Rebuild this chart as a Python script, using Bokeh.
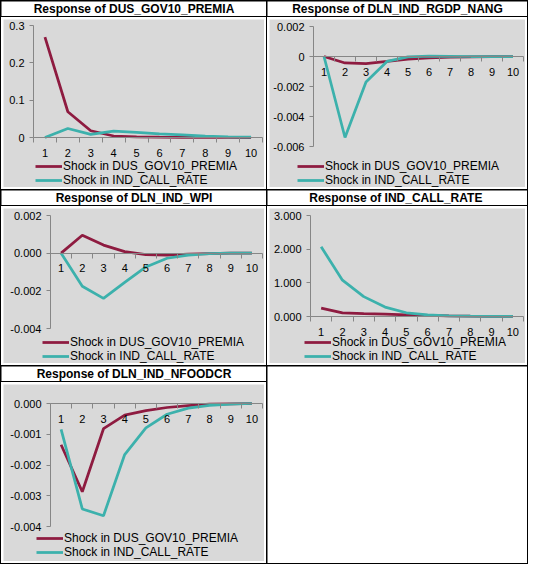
from bokeh.plotting import figure
from bokeh.models import Range1d, FixedTicker, Legend, LegendItem, Label, GridBox, Column
from bokeh.embed import file_html
from bokeh.resources import INLINE

# ---------------- data ----------------
periods = [1, 2, 3, 4, 5, 6, 7, 8, 9, 10]
series_names = ["Shock in DUS_GOV10_PREMIA", "Shock in IND_CALL_RATE"]
titles = [
    "Response of DUS_GOV10_PREMIA",
    "Response of DLN_IND_RGDP_NANG",
    "Response of DLN_IND_WPI",
    "Response of  IND_CALL_RATE",
    "Response of DLN_IND_NFOODCR",
]

gov_dus = [0.269, 0.069, 0.018, 0.004, 0.002, 0.001, 0.0005, 0.0002, 0.0001, 0.0]
gov_call = [0.0, 0.024, 0.0085, 0.017, 0.014, 0.010, 0.007, 0.004, 0.002, 0.001]

rgdp_dus = [0.0, -0.00043, -0.00047, -0.00033, -0.00018, -0.0001, -0.00005, -0.00002, -0.00001, 0.0]
rgdp_call = [0.0, -0.0054, -0.0017, -0.00033, -0.00003, 0.00002, 0.00001, 0.0, 0.0, 0.0]

wpi_dus = [0.0, 0.00095, 0.00043, 0.00008, -0.00008, -0.0001, -0.00005, -0.00002, 0.0, 0.0]
wpi_call = [0.0, -0.00176, -0.0024, -0.00155, -0.00073, -0.00027, -0.0001, -0.00003, 0.0, 0.0]

call_dus = [0.25, 0.105, 0.085, 0.07, 0.05, 0.03, 0.015, 0.008, 0.004, 0.002]
call_call = [2.07, 1.08, 0.59, 0.28, 0.11, 0.05, 0.02, 0.01, 0.005, 0.002]

nfood_dus = [-0.00134, -0.00287, -0.00082, -0.00038, -0.00023, -0.00013, -0.00007, -0.00002, -0.00001, 0.0]
nfood_call = [-0.00084, -0.00343, -0.00365, -0.00166, -0.00079, -0.00035, -0.00015, -0.00006, -0.00002, 0.0]

gov_yticks = [0, 0.1, 0.2, 0.3]
gov_ylabels = ["0", "0.1", "0.2", "0.3"]
rgdp_yticks = [-0.006, -0.004, -0.002, 0, 0.002]
rgdp_ylabels = ["-0.006", "-0.004", "-0.002", "0", "0.002"]
wpi_yticks = [-0.004, -0.002, 0, 0.002]
wpi_ylabels = ["-0.004", "-0.002", "0.000", "0.002"]
call_yticks = [0, 1, 2, 3]
call_ylabels = ["0.000", "1.000", "2.000", "3.000"]
nfood_yticks = [-0.004, -0.003, -0.002, -0.001, 0]
nfood_ylabels = ["-0.004", "-0.003", "-0.002", "-0.001", "0.000"]

# ---------------- style ----------------
RED = "#8E1B40"
TEAL = "#3CB1AC"
GRAY = "#D9D9D9"
AXIS = "#868686"
FONT = "Liberation Sans"

L_W, R_W = 265, 260
ROW_H = [172, 159, 181]
TITLE_H = 15
PAD = 2


def title_fig(text, w):
    p = figure(width=w, height=TITLE_H, x_range=Range1d(0, 1), y_range=Range1d(0, 1),
               output_backend="svg", toolbar_location=None, min_border=0,
               background_fill_color="white", border_fill_color="white",
               outline_line_color=None)
    p.axis.visible = False
    p.grid.visible = False
    p.add_layout(Label(x=0.5, y=0.5, text=text, text_align="center", text_baseline="middle",
                       text_font=FONT, text_font_style="bold", text_font_size="12px",
                       text_color="black"))
    return p


def chart(dus, call, yticks, ylabels, w, h, l, r, t, d, leg_xy):
    # plot-area geometry in pixels: data box [0.5,10.5] x [ymin,ymax] sits at
    # left=l, right=w-r, top=t, height=d; the rest of the chart area is frame too
    x0, x1 = periods[0] - 0.5, periods[-1] + 0.5
    ymin, ymax = min(yticks), max(yticks)
    ppx = (w - l - r) / (x1 - x0)
    ppy = d / (ymax - ymin)
    xr = Range1d(x0 - l / ppx, x1 + r / ppx)
    yr = Range1d(ymin - (h - t - d) / ppy, ymax + t / ppy)

    p = figure(width=w, height=h, x_range=xr, y_range=yr,
               output_backend="svg", toolbar_location=None, min_border=0,
               background_fill_color=GRAY, border_fill_color=GRAY, outline_line_color=None)
    p.grid.visible = False

    xa = p.xaxis[0]
    xa.fixed_location = 0
    xa.bounds = (x0, x1)
    bounds = [v - 0.5 for v in periods] + [periods[-1] + 0.5]
    xa.ticker = FixedTicker(ticks=periods, minor_ticks=bounds)
    xa.major_tick_line_color = None
    xa.major_tick_out = 0
    xa.major_tick_in = 0
    xa.minor_tick_in = 0
    xa.minor_tick_out = 5
    xa.minor_tick_line_color = AXIS
    xa.axis_line_color = AXIS
    xa.major_label_standoff = 6
    xa.major_label_text_font = FONT
    xa.major_label_text_font_size = "11px"
    xa.major_label_text_color = "black"

    ya = p.yaxis[0]
    ya.fixed_location = x0
    ya.bounds = (ymin, ymax)
    ya.ticker = FixedTicker(ticks=yticks)
    ya.major_label_overrides = dict(zip(yticks, ylabels))
    ya.minor_tick_line_color = None
    ya.major_tick_out = 4
    ya.major_tick_in = 0
    ya.major_tick_line_color = AXIS
    ya.axis_line_color = AXIS
    ya.major_label_standoff = 5
    ya.major_label_text_font = FONT
    ya.major_label_text_font_size = "11px"
    ya.major_label_text_color = "black"

    r1 = p.line(periods, dus, line_color=RED, line_width=2.75)
    r2 = p.line(periods, call, line_color=TEAL, line_width=2.75)

    leg = Legend(items=[LegendItem(label=series_names[0], renderers=[r1]),
                        LegendItem(label=series_names[1], renderers=[r2])],
                 location=leg_xy, orientation="vertical",
                 border_line_color=None, background_fill_alpha=0,
                 padding=0, margin=0, spacing=0,
                 glyph_width=27, glyph_height=14, label_height=14, label_standoff=1,
                 label_text_font=FONT, label_text_font_size="12px", label_text_color="black")
    p.add_layout(leg)
    return p


def wrap(p):
    return Column(children=[p], styles={"background-color": "white", "padding": f"{PAD}px"})


fw_l, fw_r = L_W - 2 * PAD, R_W - 2 * PAD
fh = [hh - 2 * PAD for hh in ROW_H]

c1 = chart(gov_dus, gov_call, gov_yticks, gov_ylabels, fw_l, fh[0], 30, 2, 6, 112, (32, 0))
c2 = chart(rgdp_dus, rgdp_call, rgdp_yticks, rgdp_ylabels, fw_r, fh[0], 44, 2, 7, 120, (28, 0))
c3 = chart(wpi_dus, wpi_call, wpi_yticks, wpi_ylabels, fw_l, fh[1], 47, 2, 7, 113, (39, 0))
c4 = chart(call_dus, call_call, call_yticks, call_ylabels, fw_r, fh[1], 41, 2, 7, 101, (35, 0))
c5 = chart(nfood_dus, nfood_call, nfood_yticks, nfood_ylabels, fw_l, fh[2], 47, 2, 19, 123, (33, 2))

empty = figure(width=R_W, height=TITLE_H + 1 + ROW_H[2], output_backend="svg", toolbar_location=None,
               min_border=0, background_fill_color="white", border_fill_color="white",
               outline_line_color=None)
empty.axis.visible = False
empty.grid.visible = False

grid = GridBox(children=[
    (title_fig(titles[0], L_W), 0, 0), (title_fig(titles[1], R_W), 0, 1),
    (wrap(c1), 1, 0), (wrap(c2), 1, 1),
    (title_fig(titles[2], L_W), 2, 0), (title_fig(titles[3], R_W), 2, 1),
    (wrap(c3), 3, 0), (wrap(c4), 3, 1),
    (title_fig(titles[4], L_W), 4, 0),
    (wrap(c5), 5, 0),
    (empty, 4, 1, 2, 1),
], spacing=1, styles={"background-color": "black", "padding": "1px"})

open("out.html", "w").write(file_html(grid, INLINE))
